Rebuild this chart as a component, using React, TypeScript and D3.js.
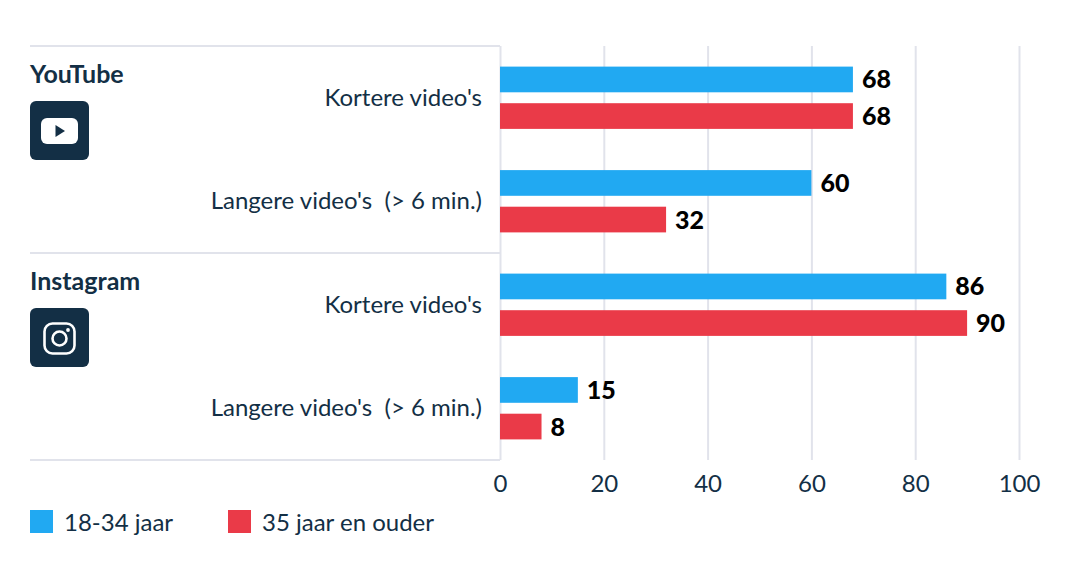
import { useEffect, useRef } from "react";
import * as d3 from "d3";

const PLATFORMS = ["YouTube", "Instagram"];
const CATEGORIES = ["Kortere video's", "Langere video's  (> 6 min.)"];
const ROWS = ["YouTube|0", "YouTube|1", "Instagram|0", "Instagram|1"];
const SERIES = ["18-34 jaar", "35 jaar en ouder"];
const YOUNG = [68, 60, 86, 15];
const OLD = [68, 32, 90, 8];
const TICKS = [0, 20, 40, 60, 80, 100];

const BLUE = "#21a9f2";
const RED = "#ea3a48";
const NAVY = "#132f45";
const GRID = "#e1e3eb";
const FONT = "Lato, sans-serif";

export default function App() {
  const svgRef = useRef<SVGSVGElement>(null);

  useEffect(() => {
    if (!svgRef.current) return;
    const svg = d3.select(svgRef.current);
    svg.selectAll("*").remove();

    const left = 500;
    const top = 46;
    const bottom = 460;

    const x = d3.scaleLinear().domain([0, 100]).range([left, 1019]);
    const y = d3.scaleBand().domain(ROWS).range([top, bottom]);
    const inner = d3
      .scaleBand()
      .domain(SERIES)
      .range([0, y.bandwidth()])
      .paddingInner(0.298)
      .paddingOuter(0.563);

    // X axis + grid
    svg.append("g")
      .attr("transform", `translate(0,${bottom})`)
      .call(d3.axisBottom(x).tickValues(TICKS).tickSize(top - bottom).tickPadding(0))
      .call((g) => {
        g.select(".domain").remove();
        g.selectAll(".tick line").attr("stroke", GRID).attr("stroke-width", 2);
        g.selectAll(".tick text")
          .attr("fill", NAVY)
          .attr("font-family", FONT)
          .attr("font-size", "24px")
          .attr("y", 32)
          .attr("dy", 0);
      });

    // Platform separators
    svg.selectAll(".sep")
      .data([0, 2])
      .join("line")
      .attr("x1", 30)
      .attr("x2", left)
      .attr("y1", (d) => y(ROWS[d])!)
      .attr("y2", (d) => y(ROWS[d])!)
      .attr("stroke", GRID)
      .attr("stroke-width", 2);
    svg.append("line")
      .attr("x1", 30)
      .attr("x2", left)
      .attr("y1", bottom)
      .attr("y2", bottom)
      .attr("stroke", GRID)
      .attr("stroke-width", 2);

    // Bars
    [YOUNG, OLD].forEach((values, s) => {
      const color = s === 0 ? BLUE : RED;
      svg.selectAll(`.bar-${s}`)
        .data(values)
        .join("rect")
        .attr("x", x(0))
        .attr("y", (_, i) => y(ROWS[i])! + inner(SERIES[s])!)
        .attr("width", (d) => x(d) - x(0))
        .attr("height", inner.bandwidth())
        .attr("fill", color);

      svg.selectAll(`.val-${s}`)
        .data(values)
        .join("text")
        .attr("x", (d) => x(d) + 9)
        .attr("y", (_, i) => y(ROWS[i])! + inner(SERIES[s])! + inner.bandwidth() / 2 + 9)
        .attr("font-family", FONT)
        .attr("font-size", "25px")
        .attr("font-weight", 900)
        .attr("fill", "#000")
        .text((d) => d);
    });

    // Category labels
    svg.selectAll(".cat")
      .data(ROWS)
      .join("text")
      .attr("x", 482)
      .attr("y", (d) => y(d)! + y.bandwidth() / 2 + 8)
      .attr("text-anchor", "end")
      .attr("xml:space", "preserve")
      .style("white-space", "pre")
      .attr("font-family", FONT)
      .attr("font-size", "24px")
      .attr("fill", NAVY)
      .text((d) => CATEGORIES[+d.split("|")[1]]);

    // Platform labels + icons
    const groups = svg.selectAll(".platform")
      .data(PLATFORMS)
      .join("g")
      .attr("transform", (d) => `translate(30,${y(`${d}|0`)!})`);
    groups.append("text")
      .attr("y", 37)
      .attr("font-family", FONT)
      .attr("font-size", "25px")
      .attr("font-weight", 700)
      .attr("fill", NAVY)
      .text((d) => d);
    groups.append("rect")
      .attr("y", 55)
      .attr("width", 59)
      .attr("height", 59)
      .attr("rx", 6)
      .attr("fill", NAVY);

    const yt = groups.filter((d) => d === "YouTube");
    yt.append("rect").attr("x", 11).attr("y", 72).attr("width", 37).attr("height", 26).attr("rx", 6).attr("fill", "#fff");
    yt.append("path").attr("d", "M25.5 79 L35 85 L25.5 91 Z").attr("fill", NAVY);

    const ig = groups.filter((d) => d === "Instagram");
    ig.append("rect").attr("x", 14.5).attr("y", 70.5).attr("width", 30).attr("height", 30).attr("rx", 8).attr("fill", "none").attr("stroke", "#fff").attr("stroke-width", 2.6);
    ig.append("circle").attr("cx", 29.5).attr("cy", 85.5).attr("r", 7).attr("fill", "none").attr("stroke", "#fff").attr("stroke-width", 2.6);
    ig.append("circle").attr("cx", 38).attr("cy", 77).attr("r", 1.9).attr("fill", "#fff");

    // Legend
    const legendX = [30, 228];
    const legend = svg.selectAll(".legend")
      .data(SERIES)
      .join("g")
      .attr("transform", (_, i) => `translate(${legendX[i]},510)`);
    legend.append("rect")
      .attr("width", 23)
      .attr("height", 23)
      .attr("fill", (_, i) => (i === 0 ? BLUE : RED));
    legend.append("text")
      .attr("x", 34)
      .attr("y", 21)
      .attr("font-family", FONT)
      .attr("font-size", "24px")
      .attr("fill", NAVY)
      .text((d) => d);
  }, []);

  return (
    <svg
      ref={svgRef}
      width={1066}
      height={576}
      style={{ position: "fixed", left: 0, top: 0, background: "#fff" }}
    />
  );
}
